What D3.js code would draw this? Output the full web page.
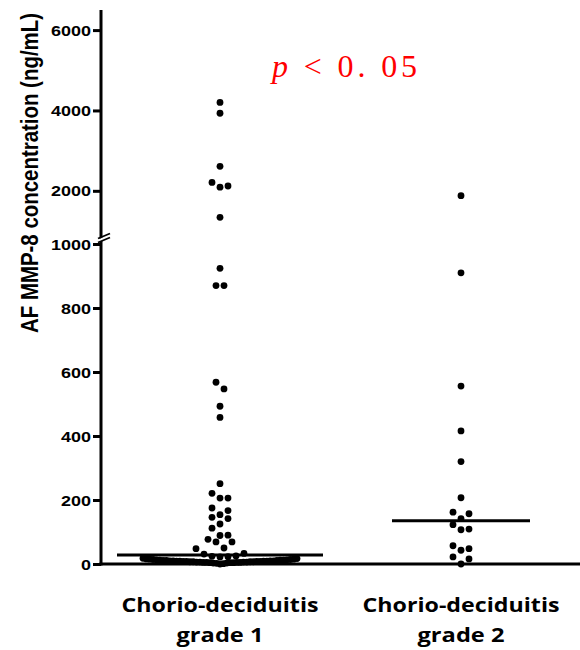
<!DOCTYPE html>
<html>
<head>
<meta charset="utf-8">
<script src="https://cdn.jsdelivr.net/npm/d3@7"></script>
<style>
  body { margin: 0; background: #fff; }
</style>
</head>
<body>
<div id="chart"></div>
<script>
// Dot plot: AF MMP-8 by chorio-deciduitis grade, broken y axis

const width = 580;
const height = 650;

// --- DATA ---
const groups = ["Chorio-deciduitis grade 1", "Chorio-deciduitis grade 2"];
const grade1 = [4200, 3930, 2610, 2210, 2120, 2090, 1340,
  924, 870, 870, 568, 547, 493, 458, 251, 221, 206, 206, 175, 167, 154,
  146, 142, 125, 112, 90, 89, 77, 69, 69, 50, 48, 33, 31, 25, 24, 23, 22,
  18, 17, 16, 15, 15, 14, 14, 13, 13, 12, 12, 12, 11, 11, 11, 10, 10, 10, 10,
  9, 9, 9, 9, 8, 8, 8, 8, 7, 7, 7, 7, 6, 6, 6, 6, 5, 5, 5, 5, 4, 4, 4, 3, 3, 2, 1, 0];
const grade2 = [1880, 910, 556, 416, 320, 207, 162, 157, 142, 123, 109, 107, 57, 48, 43, 22, 16, 0];
const medians = [28, 135];
const lowTicks = [0, 200, 400, 600, 800, 1000];
const highTicks = [2000, 4000, 6000];
const pLabel = "p < 0. 05";

const svg = d3.select("#chart")
  .append("svg")
  .attr("width", width)
  .attr("height", height)
  .style("background", "#fff");

// --- SCALES (two segments) ---
const axisX = 101;
const yLow = d3.scaleLinear().domain([0, 1000]).range([564, 244]);
const yHigh = d3.scaleLinear().domain([1000, 6500]).range([231, 10]);
const y = v => v <= 1000 ? yLow(v) : yHigh(v);

const x = d3.scalePoint()
  .domain(groups)
  .range([220, 461]);

// --- ROW LAYOUT (GraphPad-like scatter) ---
function layout(values, maxW) {
  const pts = values.map(v => ({ v, py: y(v) })).sort((a, b) => a.py - b.py);
  const rows = [];
  pts.forEach(p => {
    const row = rows[rows.length - 1];
    if (row && p.py - row[0].py < 9) row.push(p);
    else rows.push([p]);
  });
  rows.forEach(row => {
    const n = row.length;
    const sp = n > 1 ? Math.min(8, maxW / (n - 1)) : 0;
    // outside-in: highest values on the edges
    const order = [];
    let lo = 0, hi = n - 1;
    while (lo <= hi) {
      order.push(lo++);
      if (lo <= hi) order.push(hi--);
    }
    row.forEach((p, i) => { p.dx = (order[i] - (n - 1) / 2) * sp; });
  });
  return pts;
}

const data = [grade1, grade2];
const medianHalf = [103, 69];

// --- AXES ---
function styleAxis(g) {
  g.select(".domain").remove();
  g.selectAll(".tick line").attr("stroke", "#000").attr("stroke-width", 3);
  g.selectAll(".tick text")
    .attr("font-family", "'Liberation Sans', Arial, sans-serif")
    .attr("font-weight", "bold")
    .attr("font-size", 14)
    .attr("fill", "#000")
    .attr("x", -10)
    .attr("dy", "0.36em")
    .attr("textLength", d => String(d).length * 10)
    .attr("lengthAdjust", "spacingAndGlyphs");
}

svg.append("g")
  .attr("transform", `translate(${axisX},0)`)
  .call(d3.axisLeft(yLow).tickValues(lowTicks).tickSize(8).tickFormat(d3.format("d")))
  .call(styleAxis);

svg.append("g")
  .attr("transform", `translate(${axisX},0)`)
  .call(d3.axisLeft(yHigh).tickValues(highTicks).tickSize(8).tickFormat(d3.format("d")))
  .call(styleAxis);

// axis lines
svg.append("line")
  .attr("x1", axisX).attr("x2", axisX)
  .attr("y1", yHigh(6500)).attr("y2", yLow(0) + 1.5)
  .attr("stroke", "#000").attr("stroke-width", 3);

svg.append("line")
  .attr("x1", axisX - 1.5).attr("x2", width)
  .attr("y1", yLow(0)).attr("y2", yLow(0))
  .attr("stroke", "#000").attr("stroke-width", 3);

// break mark
const by = (yLow(1000) + yHigh(1000)) / 2;
svg.append("path")
  .attr("d", `M${axisX - 3},${by + 2} L${axisX + 9},${by - 3} L${axisX + 9},${by} L${axisX - 3},${by + 5} Z`)
  .attr("fill", "#fff");
[0, 4].forEach(o => {
  svg.append("line")
    .attr("x1", axisX - 3).attr("y1", by + 1 + o)
    .attr("x2", axisX + 9).attr("y2", by - 4 + o)
    .attr("stroke", "#000").attr("stroke-width", 1.8);
});

// --- MEDIAN LINES ---
svg.append("g")
  .selectAll("line")
  .data(groups)
  .join("line")
  .attr("x1", (d, i) => x(d) - medianHalf[i])
  .attr("x2", (d, i) => x(d) + medianHalf[i])
  .attr("y1", (d, i) => y(medians[i]))
  .attr("y2", (d, i) => y(medians[i]))
  .attr("stroke", "#000")
  .attr("stroke-width", 3);

// --- DOTS ---
groups.forEach((g, i) => {
  const pts = layout(data[i], 154);
  svg.append("g")
    .selectAll("circle")
    .data(pts)
    .join("circle")
    .attr("cx", d => x(g) + d.dx)
    .attr("cy", d => d.py)
    .attr("r", 3.4)
    .attr("fill", "#000");
});

// --- X LABELS ---
const xl = svg.append("g")
  .attr("text-anchor", "middle")
  .style("font-family", "'Open Sans', 'Noto Sans', sans-serif")
  .style("font-weight", "bold")
  .style("font-size", "20px")
  .attr("fill", "#000");

groups.forEach(g => {
  const words = g.split(" ");
  xl.append("text")
    .attr("x", x(g))
    .attr("y", 612)
    .attr("textLength", 197)
    .attr("lengthAdjust", "spacingAndGlyphs")
    .text(words[0]);
  xl.append("text")
    .attr("x", x(g))
    .attr("y", 642)
    .attr("textLength", 87)
    .attr("lengthAdjust", "spacingAndGlyphs")
    .text(words.slice(1).join(" "));
});

// --- Y TITLE ---
svg.append("text")
  .attr("transform", "translate(38,173) scale(1.22,1) rotate(-90)")
  .attr("text-anchor", "middle")
  .attr("textLength", 320)
  .attr("lengthAdjust", "spacingAndGlyphs")
  .style("font", "bold 20px 'Liberation Sans', Arial, sans-serif")
  .attr("fill", "#000")
  .text("AF MMP-8 concentration (ng/mL)");

// --- P VALUE ---
const pText = svg.append("text")
  .attr("x", 272)
  .attr("y", 77)
  .attr("textLength", 145)
  .attr("lengthAdjust", "spacing")
  .style("font-family", "'Liberation Serif', 'DejaVu Serif', serif")
  .style("font-size", "32px")
  .attr("fill", "#ff0000");

pText.append("tspan").style("font-style", "italic").text(pLabel.slice(0, 1));
pText.append("tspan").text(pLabel.slice(1));
</script>
</body>
</html>
